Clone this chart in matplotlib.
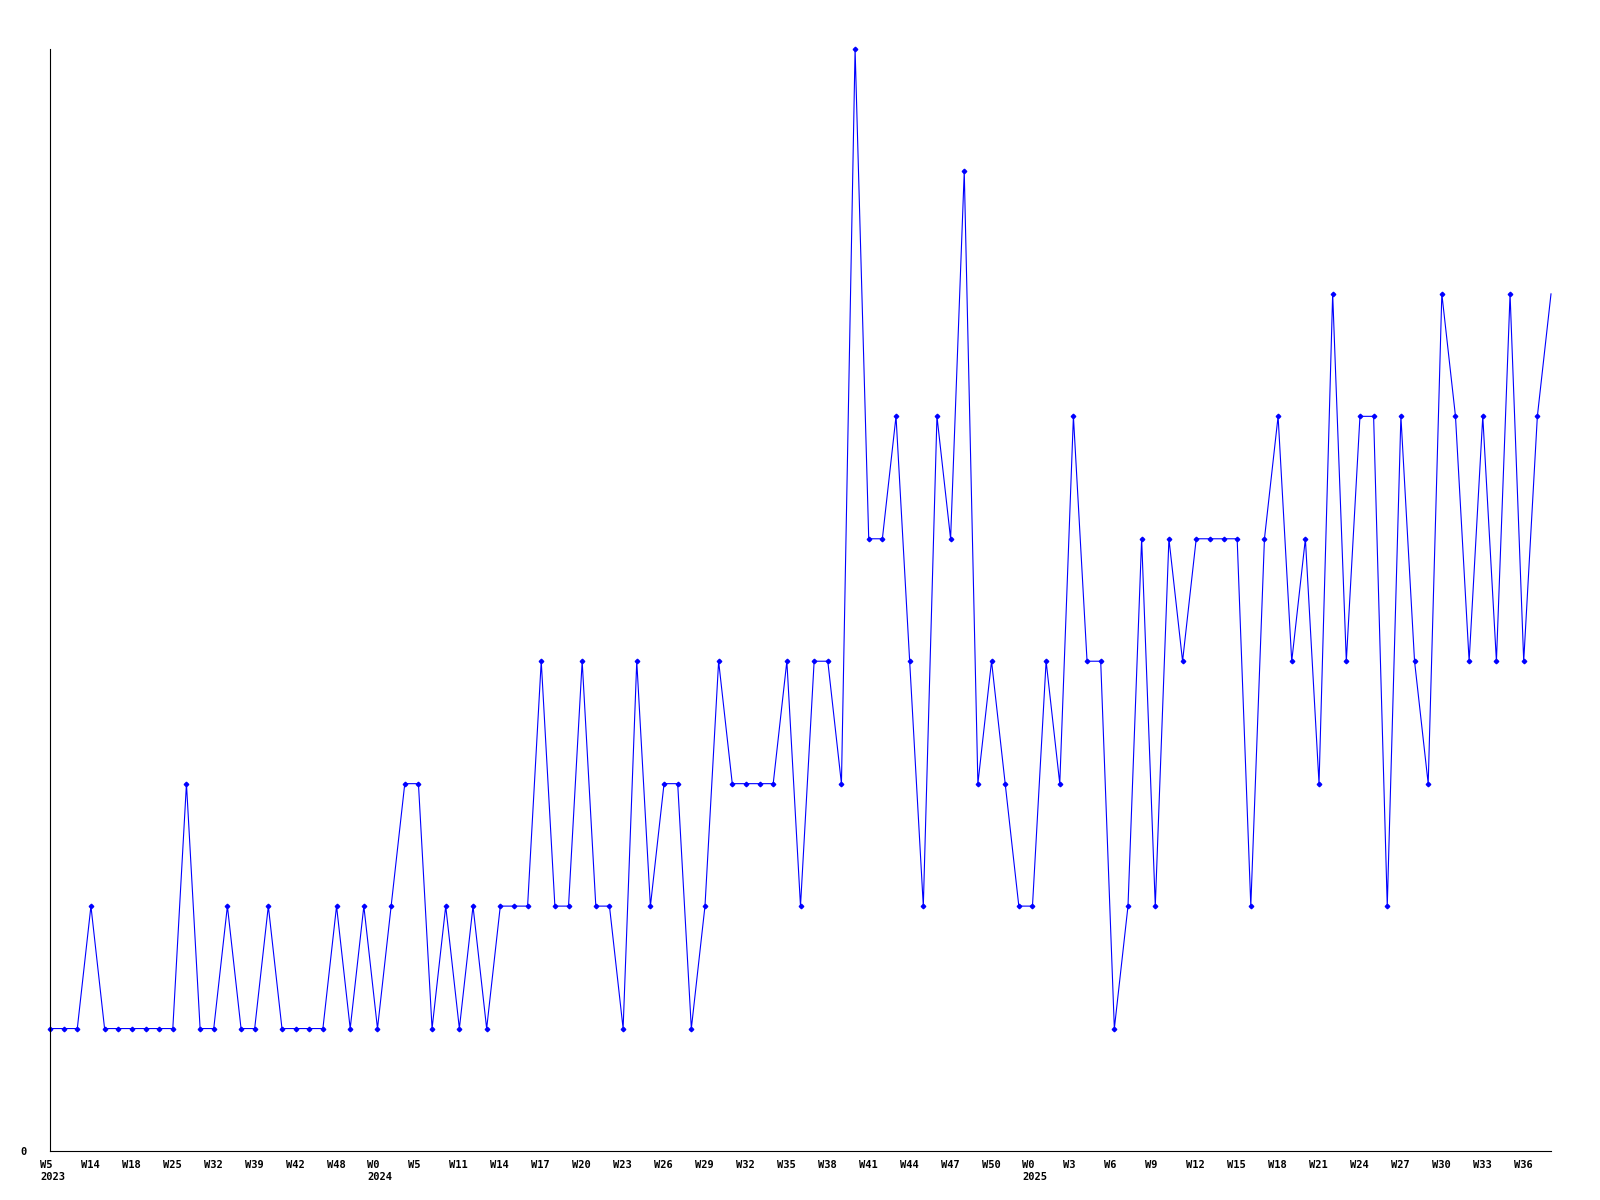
import matplotlib
matplotlib.use("Agg")
import matplotlib.pyplot as plt
import matplotlib.transforms as mtransforms

# weekly counts, one value per week
counts = [
    1, 1, 1, 2, 1, 1, 1, 1, 1, 1,
    3, 1, 1, 2, 1, 1, 2, 1, 1, 1,
    1, 2, 1, 2, 1, 2, 3, 3, 1, 2,
    1, 2, 1, 2, 2, 2, 4, 2, 2, 4,
    2, 2, 1, 4, 2, 3, 3, 1, 2, 4,
    3, 3, 3, 3, 4, 2, 4, 4, 3, 9,
    5, 5, 6, 4, 2, 6, 5, 8, 3, 4,
    3, 2, 2, 4, 3, 6, 4, 4, 1, 2,
    5, 2, 5, 4, 5, 5, 5, 5, 2, 5,
    6, 4, 5, 3, 7, 4, 6, 6, 2, 6,
    4, 3, 7, 6, 4, 6, 4, 7, 4, 6, 7,
]

# one label every third week
week_labels = [
    "W5", "W14", "W18", "W25", "W32", "W39", "W42", "W48",
    "W0", "W5", "W11", "W14", "W17", "W20", "W23", "W26", "W29", "W32",
    "W35", "W38", "W41", "W44", "W47", "W50",
    "W0", "W3", "W6", "W9", "W12", "W15", "W18", "W21", "W24", "W27",
    "W30", "W33", "W36",
]
year_labels = {0: "2023", 8: "2024", 24: "2025"}
label_step = 3

fig = plt.figure(figsize=(16, 12), dpi=100)
ax = fig.add_axes([50 / 1600, 1 - 1151 / 1200, 1501 / 1600, 1102 / 1200])

x = list(range(len(counts)))
ax.plot(x, counts, color="#0000ff", linewidth=0.8, marker="D", markersize=2.3,
        markevery=list(range(len(counts) - 1)), clip_on=False)

ax.set_xlim(0, len(counts) - 1)
ax.set_ylim(0, 9)

font = dict(family="DejaVu Sans Mono", weight="bold", size=7.5)

# x labels drawn as text so they can sit a little left of each tick
ax.set_xticks([])
offset = mtransforms.ScaledTranslation(-10 / 100, -9 / 100, fig.dpi_scale_trans)
trans = ax.get_xaxis_transform() + offset
for i, w in enumerate(week_labels):
    txt = w
    if i in year_labels:
        txt = w + "\n" + year_labels[i]
    ax.text(i * label_step, 0, txt, transform=trans, ha="left", va="top",
            linespacing=1.25, **font)

ax.set_yticks([0])
ax.set_yticklabels(["0"], **font)
ax.tick_params(axis="y", length=0, pad=17)

for side in ["top", "right"]:
    ax.spines[side].set_visible(False)
for side in ["left", "bottom"]:
    ax.spines[side].set_linewidth(0.8)
    ax.spines[side].set_color("black")

fig.savefig("out.png", dpi=100, facecolor="white")
